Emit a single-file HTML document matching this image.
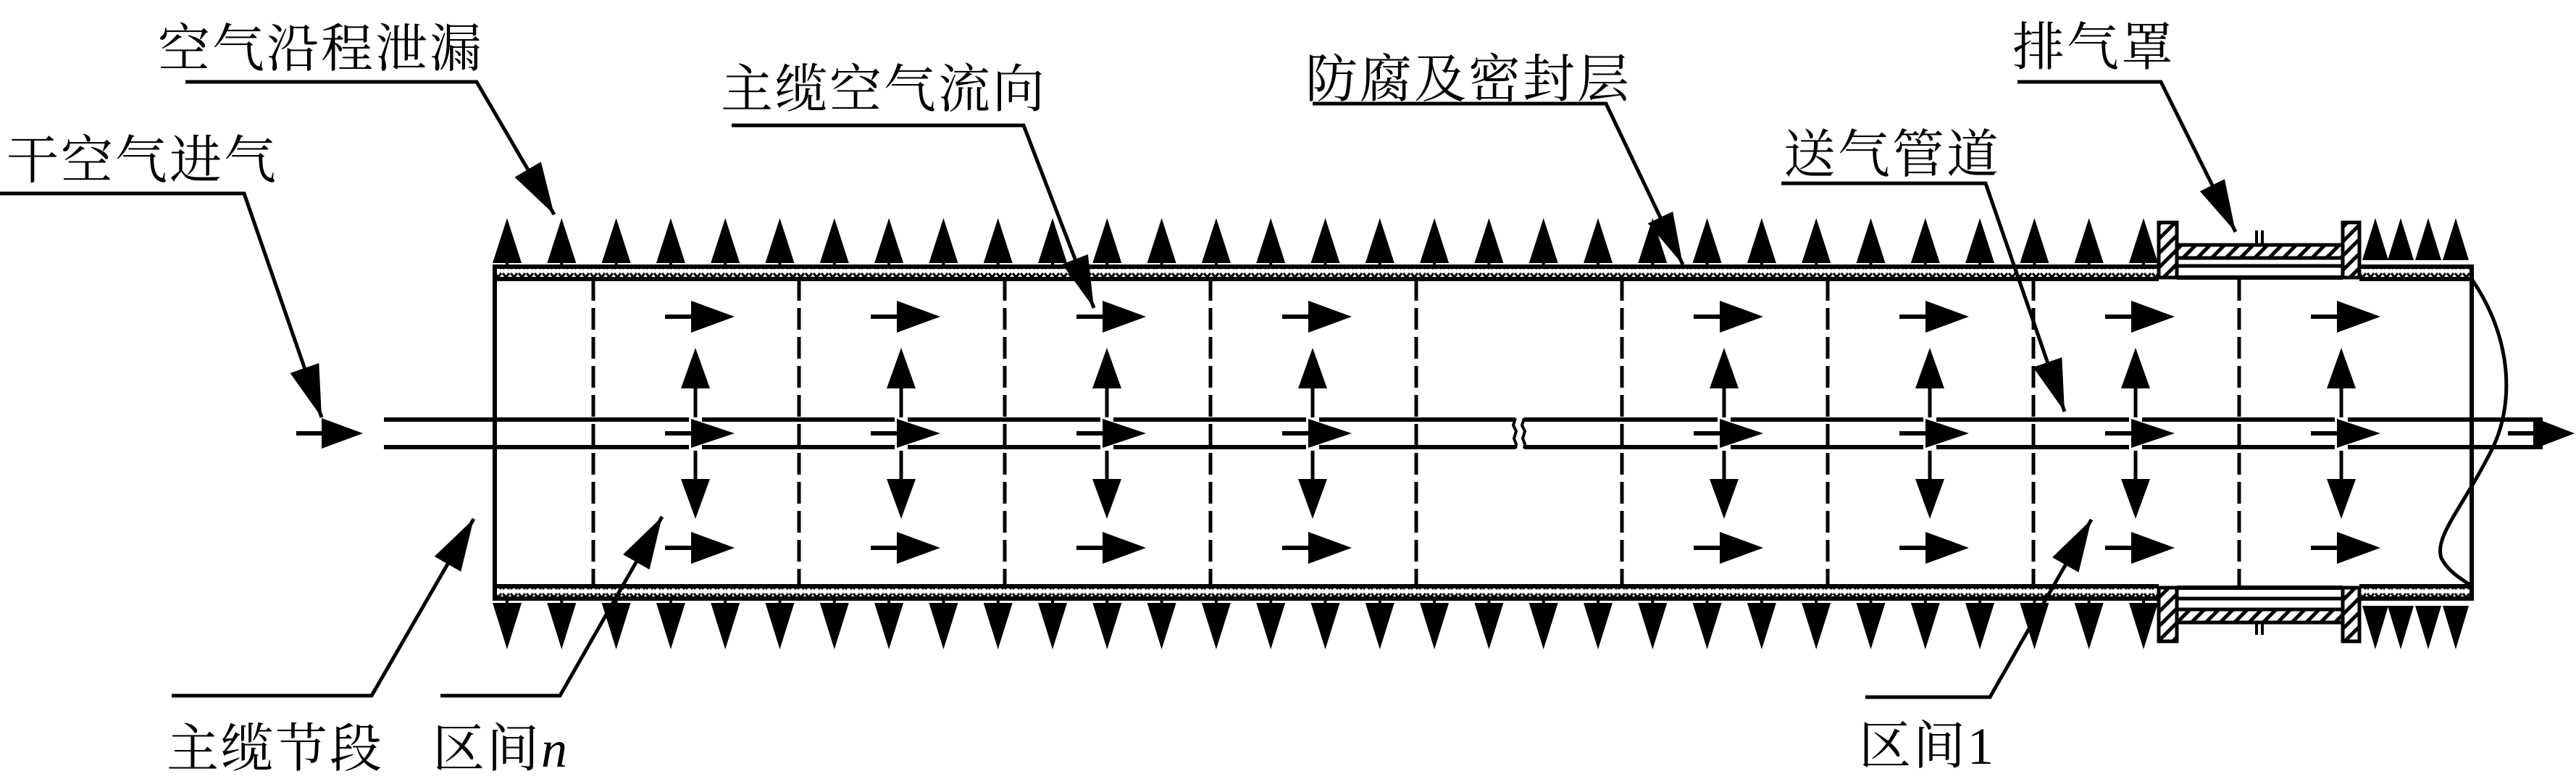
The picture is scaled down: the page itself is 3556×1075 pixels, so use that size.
<!DOCTYPE html>
<html><head><meta charset="utf-8"><style>
html,body{margin:0;padding:0;background:#fff;}
svg{display:block;}
text{font-family:"Liberation Serif","Noto Serif CJK SC",serif;font-size:72px;fill:#000;letter-spacing:3px;}
</style></head><body>
<svg id="s" xmlns="http://www.w3.org/2000/svg" width="3556" height="1075" viewBox="0 0 3556 1075">
<defs>
<pattern id="hx" width="11" height="17" patternUnits="userSpaceOnUse">
<path d="M1,3 L10,14 M10,3 L1,14" stroke="#000" stroke-width="3.2" fill="none"/>
</pattern>
<pattern id="ht" width="14" height="14" patternUnits="userSpaceOnUse" patternTransform="rotate(45)">
<rect x="0" y="0" width="5" height="14" fill="#000"/>
</pattern>
</defs>
<rect width="3556" height="1075" fill="#fff"/>
<g id="g" stroke="#000" fill="none" stroke-width="6"></g>
<text x="218" y="92">空气沿程泄漏</text>
<text x="995" y="148">主缆空气流向</text>
<text x="1802" y="134">防腐及密封层</text>
<text x="2778" y="90">排气罩</text>
<text x="2462" y="238">送气管道</text>
<text x="9" y="246">干空气进气</text>
<text x="230" y="1058">主缆节段</text>
<text x="597" y="1058">区间<tspan font-style="italic" font-family="Liberation Serif">n</tspan></text>
<text x="2566" y="1054">区间<tspan font-family="Liberation Serif">1</tspan></text>
</svg>
<script>
var g=document.getElementById('g');var NS='http://www.w3.org/2000/svg';
function el(t,a){var e=document.createElementNS(NS,t);for(var k in a)e.setAttribute(k,a[k]);g.appendChild(e);return e;}
function ln(x1,y1,x2,y2,w,extra){var a={x1:x1,y1:y1,x2:x2,y2:y2};if(w)a['stroke-width']=w;if(extra)for(var k in extra)a[k]=extra[k];return el('line',a);}
function tri(tx,ty,dx,dy,L,h){var n=Math.hypot(dx,dy);dx/=n;dy/=n;var bx=tx-dx*L,by=ty-dy*L;var px=-dy,py=dx;
el('polygon',{points:tx+','+ty+' '+(bx+px*h)+','+(by+py*h)+' '+(bx-px*h)+','+(by-py*h),fill:'#000',stroke:'none'});}
function band(x1,x2,y1,y2){el('rect',{x:x1,y:y1,width:x2-x1,height:y2-y1,fill:'url(#hx)',stroke:'none'});ln(x1,y1,x2,y1,6);ln(x1,y2,x2,y2,6);}
band(683,2980,368,385);band(3257,3412,368,385);
band(683,2980,809,826);band(3257,3412,809,826);
ln(683,365,683,829,6);ln(3412,365,3412,829,6);
ln(3005,383,3234,383,6);ln(3005,367,3234,367,5);
ln(3005,811,3234,811,6);ln(3005,826,3234,826,5);
function hatchRect(x,y,w,h){el('rect',{x:x,y:y,width:w,height:h,fill:'url(#ht)',stroke:'#000','stroke-width':5});}
hatchRect(2980,307,25,76);hatchRect(3234,307,23,76);hatchRect(3005,338,229,18);
hatchRect(2980,811,25,74);hatchRect(3234,811,23,74);hatchRect(3005,841,229,18);
ln(3115,318,3115,338,4);ln(3123,318,3123,338,4);ln(3115,859,3115,876,4);ln(3123,859,3123,876,4);
el('path',{d:'M3412,385 C3470,470 3470,560 3440,620 C3400,700 3360,740 3370,770 C3380,790 3400,800 3412,809','stroke-width':5});
for(var k=0;k<9;k++){var x=819+k*284;ln(x,385,x,809,5,{'stroke-dasharray':'30 10'});}
for(var k=0;k<=30;k++){var x=700+k*75.3;
ln(x,340,x,368,4);tri(x,301,0,-1,62,20);
ln(x,826,x,850,4);tri(x,896,0,1,64,20);}
[3279,3314,3352,3390].forEach(function(x){tri(x,301,0,-1,58,18);tri(x,896,0,1,60,18);});
var vx=[960,1244,1528,1812,2380,2664,2948,3232];
var cuts=[];vx.forEach(function(v){cuts.push([v-9,v+9]);});cuts.push([2092,2104]);
cuts.sort(function(a,b){return a[0]-b[0];});
var s=530;cuts.forEach(function(c){ln(s,579,c[0],579,6);ln(s,617,c[0],617,6);s=c[1];});
ln(s,579,3510,579,6);ln(s,617,3510,617,6);
el('path',{d:'M2092,577 l-3,10 l4,8 l-3,10 l3,8 l-1,6','stroke-width':4});
el('path',{d:'M2104,577 l-3,10 l4,8 l-3,10 l3,8 l-1,6','stroke-width':4});
function harrow(x0,xh,xt,y,h){ln(x0,y,xh+4,y,6);tri(xt,y,1,0,xt-xh,h);}
vx.forEach(function(v){
harrow(v-42,v-6,v+54,437,22);harrow(v-42,v-6,v+54,598,20);harrow(v-42,v-6,v+54,756,22);
ln(v,576,v,530,5);tri(v,480,0,-1,56,20);
ln(v,622,v,668,5);tri(v,716,0,1,55,20);});
harrow(3462,3497,3554,598,22);
harrow(409,444,501,598,21);
function leader(pts,L,h){var d='M'+pts.map(function(p){return p.join(',');}).join(' L');el('path',{d:d,'stroke-width':5});
var a=pts[pts.length-2],b=pts[pts.length-1];tri(b[0],b[1],b[0]-a[0],b[1]-a[1],L,h);}
leader([[256,113],[658,113],[765,296]],72,21);
leader([[0,267],[337,267],[444,576]],72,21);
leader([[1010,173],[1413,173],[1510,425]],72,19);
leader([[1812,143],[2217,143],[2323,365]],72,19);
leader([[2785,113],[2983,113],[3086,320]],72,19);
leader([[2459,253],[2741,253],[2850,568]],72,21);
leader([[237,960],[513,960],[654,716]],72,21);
leader([[608,960],[773,960],[914,713]],72,21);
leader([[2575,962],[2747,962],[2887,717]],72,21);
</script>
</body></html>
